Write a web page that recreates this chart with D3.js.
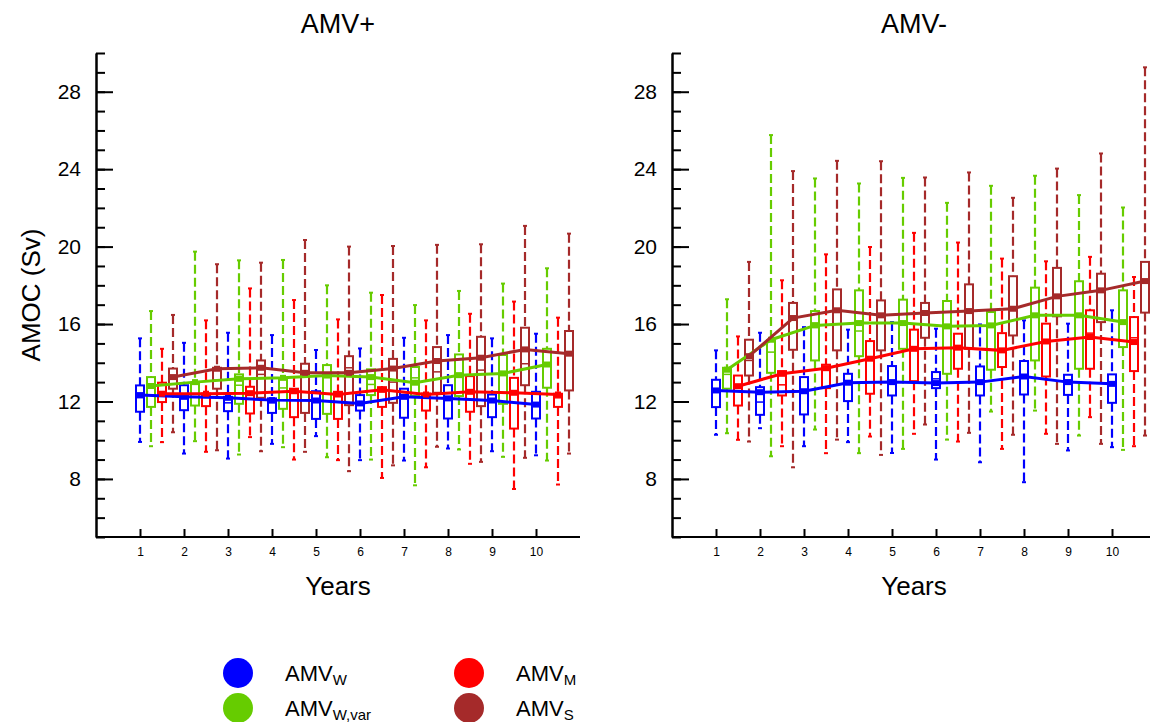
<!DOCTYPE html>
<html><head><meta charset="utf-8">
<script src="https://cdn.jsdelivr.net/npm/d3@7"></script>
<style>
body{margin:0;background:#fff}
svg{display:block}
text{font-family:"Liberation Sans",Arial,Helvetica,sans-serif;fill:#000}
</style>
</head><body>
<svg id="chart" width="1150" height="722"></svg>
<script>
// ---------------- data ----------------
const years = [1,2,3,4,5,6,7,8,9,10];
const yMajorTicks = [8,12,16,20,24,28];
const panelTitles = ["AMV+","AMV-"];
const seriesLabels = [["W"],["W,var"],["M"],["S"]];
const seriesColors = ["#0000ff","#66cc00","#ff0000","#a52a2a"];
// rows per year: [low whisker, q1, median, q3, high whisker, line value]
const plusW = [
  [9.91,11.47,12.20,12.83,15.26,12.33],[9.31,11.55,12.19,12.84,15.03,12.24],
  [9.05,11.50,11.93,12.24,15.55,12.19],[9.81,11.41,11.93,12.16,15.43,12.07],
  [10.21,11.10,12.10,12.53,14.66,12.05],[8.97,11.53,11.93,12.33,14.74,11.90],
  [8.95,11.16,12.20,12.66,15.29,12.24],[9.57,11.12,12.19,12.84,15.43,12.16],
  [9.43,11.19,12.00,12.36,15.26,12.05],[9.22,11.12,11.84,12.50,15.50,11.84]];
const plusWvar = [
  [9.69,11.72,12.80,13.26,16.67,12.80],[9.95,11.79,12.40,12.97,19.74,13.00],
  [9.26,11.88,12.84,13.40,19.29,13.17],[9.64,11.62,12.70,13.17,19.31,13.22],
  [9.12,11.36,13.40,13.88,18.00,13.34],[9.00,12.33,12.88,13.66,17.62,13.26],
  [7.67,12.28,13.22,13.78,16.98,12.97],[9.52,12.28,13.36,14.43,17.71,13.36],
  [9.14,11.88,13.48,14.40,18.09,13.45],[8.95,12.71,13.91,14.72,18.88,13.91]];
const plusM = [
  [9.90,11.97,12.45,12.97,14.72,12.40],[9.40,11.76,12.24,12.41,16.19,12.40],
  [10.16,11.38,12.36,12.76,17.84,12.43],[9.00,11.19,12.53,12.66,17.24,12.53],
  [8.97,11.10,12.36,12.50,16.24,12.36],[8.05,11.72,12.60,12.74,17.50,12.60],
  [8.60,11.53,12.28,12.41,16.19,12.36],[8.78,11.47,12.53,13.31,16.53,12.50],
  [7.48,10.60,12.45,13.22,17.16,12.45],[7.71,11.72,12.19,12.40,16.33,12.36]];
const plusS = [
  [10.41,12.66,13.26,13.70,16.47,13.26],[9.48,12.66,13.10,13.74,19.09,13.69],
  [9.43,12.19,13.40,14.12,19.17,13.74],[9.40,11.41,13.43,13.95,20.34,13.48],
  [8.40,11.81,13.74,14.34,20.00,13.48],[8.70,11.93,13.00,14.20,20.03,13.70],
  [9.66,12.45,13.53,14.81,20.09,14.09],[8.88,11.76,13.62,15.34,20.12,14.26],
  [9.09,12.84,13.95,15.81,21.07,14.69],[9.31,12.57,14.43,15.64,20.67,14.47]];
const minusW = [
  [10.28,11.71,12.57,13.12,14.64,12.57],[10.62,11.31,11.97,12.74,15.55,12.48],
  [9.69,11.33,12.60,13.26,15.84,12.53],[9.90,12.02,12.91,13.43,15.71,12.97],
  [9.34,12.31,13.00,13.83,16.10,13.00],[9.00,12.69,13.17,13.52,15.76,12.95],
  [8.86,12.31,13.00,13.81,15.98,13.00],[7.83,12.36,13.34,14.09,16.19,13.29],
  [9.47,12.34,13.09,13.38,16.02,13.00],[9.64,11.93,12.91,13.40,16.71,12.91]];
const minusWvar = [
  [10.36,12.66,13.40,13.74,17.28,13.64],[9.17,13.48,14.55,15.16,25.76,15.19],
  [10.55,14.12,16.05,16.67,23.52,15.93],[9.33,14.34,15.64,17.74,23.26,16.05],
  [9.55,14.72,16.02,17.26,23.55,16.05],[10.03,13.43,15.93,17.19,22.26,15.88],
  [11.48,13.64,15.93,16.62,23.14,15.93],[11.53,14.12,16.45,17.88,23.66,16.45],
  [10.24,13.69,16.45,18.21,22.66,16.45],[9.50,14.81,16.10,17.74,22.02,16.10]];
const minusM = [
  [10.02,11.79,12.83,13.34,15.36,12.79],[9.69,12.31,12.86,13.57,18.26,13.43],
  [9.33,12.69,13.69,13.90,19.60,13.72],[10.19,12.40,14.21,15.12,19.98,14.21],
  [10.33,13.05,14.72,15.71,20.71,14.72],[9.93,13.69,14.78,15.50,20.21,14.78],
  [9.55,13.78,14.67,15.53,19.38,14.64],[10.33,13.29,15.12,16.02,19.24,15.10],
  [11.19,13.69,15.53,16.71,19.47,15.33],[9.69,13.57,15.29,16.36,18.43,15.07]];
const minusS = [
  [9.93,13.34,14.12,15.19,19.21,14.34],[8.60,14.67,16.36,17.09,23.90,16.31],
  [10.03,14.64,16.71,17.79,24.43,16.71],[9.24,14.64,16.36,17.22,24.41,16.45],
  [10.81,15.29,16.50,17.09,23.57,16.57],[10.38,14.72,16.67,18.05,23.83,16.67],
  [10.28,15.41,16.79,18.47,22.52,16.79],[9.81,16.40,17.43,18.90,24.03,17.43],
  [9.81,16.10,17.66,18.60,24.81,17.74],[10.24,16.59,18.21,19.21,29.26,18.22]];

// ---------------- drawing ----------------
const svg = d3.select("#chart");
const panels = [
  {title: panelTitles[0], data: [plusW, plusWvar, plusM, plusS], left: 96},
  {title: panelTitles[1], data: [minusW, minusWvar, minusM, minusS], left: 672}
];
const plotW = 484, plotTop = 53, plotBottom = 537;
const y = d3.scaleLinear().domain([5, 30]).range([plotBottom, plotTop]);

panels.forEach(p => {
  const x = d3.scaleLinear().domain([0, 11]).range([p.left, p.left + plotW]);
  const g = svg.append("g");

  // data: boxes & whiskers
  p.data.forEach((series, si) => {
    const col = seriesColors[si];
    const off = si * 0.25;
    const sg = g.append("g");
    series.forEach((r, i) => {
      const cx = x(years[i] + off);
      const [lo, q1, med, q3, hi] = r;
      sg.append("line").attr("x1", cx).attr("x2", cx).attr("y1", y(hi)).attr("y2", y(q3))
        .attr("stroke", col).attr("stroke-width", 2.2).attr("stroke-dasharray", "9,4");
      sg.append("line").attr("x1", cx).attr("x2", cx).attr("y1", y(q1)).attr("y2", y(lo))
        .attr("stroke", col).attr("stroke-width", 2.2).attr("stroke-dasharray", "9,4");
      [hi, lo].forEach(v => sg.append("line").attr("x1", cx - 2).attr("x2", cx + 2)
        .attr("y1", y(v)).attr("y2", y(v)).attr("stroke", col).attr("stroke-width", 2));
      sg.append("rect").attr("x", cx - 4).attr("y", y(q3)).attr("width", 8)
        .attr("height", y(q1) - y(q3)).attr("fill", "none").attr("stroke", col).attr("stroke-width", 2);
      sg.append("line").attr("x1", cx - 4).attr("x2", cx + 4).attr("y1", y(med)).attr("y2", y(med))
        .attr("stroke", col).attr("stroke-width", 1.5);
    });
  });
  // lines with markers
  p.data.forEach((series, si) => {
    const col = seriesColors[si];
    const off = si * 0.25;
    const pts = series.map((r, i) => [x(years[i] + off), y(r[5])]);
    g.append("path").attr("d", d3.line()(pts)).attr("fill", "none")
      .attr("stroke", col).attr("stroke-width", 3);
    g.selectAll(null).data(pts).enter().append("rect")
      .attr("x", d => d[0] - 3).attr("y", d => d[1] - 3).attr("width", 6).attr("height", 6)
      .attr("fill", col);
  });

  // axes
  const minor = d3.axisLeft(y).tickValues(d3.range(5, 31)).tickSize(-9).tickSizeOuter(0).tickFormat("");
  const major = d3.axisLeft(y).tickValues(yMajorTicks).tickSize(-17).tickSizeOuter(0).tickPadding(15);
  const ax1 = g.append("g").attr("transform", `translate(${p.left},0)`).call(minor);
  const ax2 = g.append("g").attr("transform", `translate(${p.left},0)`).call(major);
  const xa = d3.axisBottom(x).tickValues(years).tickSize(-8).tickSizeOuter(0).tickPadding(10);
  const ax3 = g.append("g").attr("transform", `translate(0,${plotBottom})`).call(xa);
  [ax1, ax2, ax3].forEach(a => {
    a.selectAll("path.domain").attr("stroke", "#000").attr("stroke-width", 2);
    a.selectAll(".tick line").attr("stroke", "#000").attr("stroke-width", 2);
  });
  ax2.selectAll(".tick text").attr("font-size", 21).attr("font-family", "Liberation Sans, Arial, sans-serif");
  ax3.selectAll(".tick text").attr("font-size", 12).attr("font-family", "Liberation Sans, Arial, sans-serif");
  ax3.select("path.domain").attr("d", `M${p.left},0H${p.left + plotW}`);

  // titles
  const cx = p.left + plotW / 2;
  g.append("text").attr("x", cx).attr("y", 33).attr("text-anchor", "middle")
    .attr("font-size", 27).text(p.title);
  g.append("text").attr("x", cx).attr("y", 595).attr("text-anchor", "middle")
    .attr("font-size", 26).text("Years");
});

svg.append("text").attr("transform", "translate(40,295) rotate(-90)")
  .attr("text-anchor", "middle").attr("font-size", 26).text("AMOC (Sv)");

// legend
const legendPos = [[238, 673], [238, 708], [469, 673], [469, 708]];
seriesLabels.forEach((lab, i) => {
  const [lx, ly] = legendPos[i];
  svg.append("circle").attr("cx", lx).attr("cy", ly).attr("r", 15).attr("fill", seriesColors[i]);
  const t = svg.append("text").attr("x", lx + 47).attr("y", ly + 8).attr("font-size", 22);
  t.append("tspan").text("AMV");
  t.append("tspan").attr("font-size", 15).attr("dy", 4).text(lab[0]);
});
</script>
</body></html>
